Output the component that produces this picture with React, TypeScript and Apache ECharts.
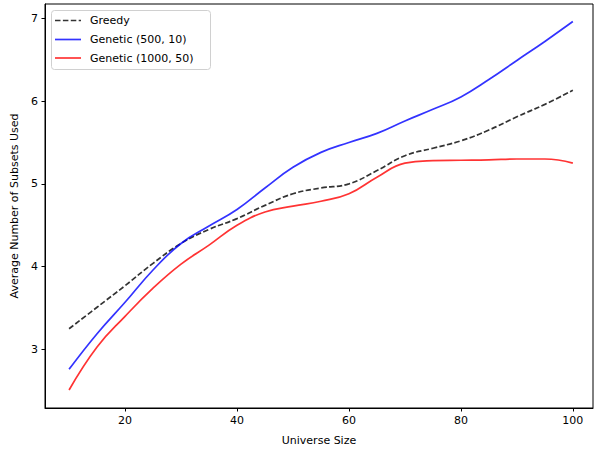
import React, { useEffect, useRef } from "react";
import * as echarts from "echarts";

const xValues = [10, 15, 20, 25, 30, 35, 40, 45, 50, 55, 60, 65, 70, 75, 80, 85, 90, 95, 100];
const greedy = [3.25, 3.51, 3.77, 4.04, 4.28, 4.45, 4.58, 4.74, 4.88, 4.95, 5.0, 5.16, 5.34, 5.43, 5.52, 5.65, 5.81, 5.96, 6.13];
const genetic500 = [2.76, 3.19, 3.57, 3.96, 4.28, 4.49, 4.69, 4.95, 5.2, 5.38, 5.5, 5.61, 5.76, 5.9, 6.05, 6.26, 6.49, 6.72, 6.96];
const genetic1000 = [2.51, 3.03, 3.4, 3.74, 4.03, 4.26, 4.5, 4.66, 4.73, 4.79, 4.88, 5.08, 5.25, 5.28, 5.285, 5.29, 5.3, 5.3, 5.25];
const xTicks = [20, 40, 60, 80, 100];
const yTicks = [3, 4, 5, 6, 7];
const seriesNames = ["Greedy", "Genetic (500, 10)", "Genetic (1000, 50)"];
const seriesColors = ["rgba(0,0,0,0.8)", "rgba(0,0,255,0.8)", "rgba(255,0,0,0.8)"];
const dash = [5.5, 2.4];

const FONT = "DejaVu Sans";

export default function App() {
  const ref = useRef<HTMLDivElement>(null);
  useEffect(() => {
    if (!ref.current) return;
    const chart = echarts.init(ref.current, undefined, { renderer: "svg" });
    const pairs = (ys: number[]) => xValues.map((x, i) => [x, ys[i]]);
    const mk = (i: number, ys: number[]) => ({
      name: seriesNames[i],
      type: "line",
      data: pairs(ys),
      smooth: 0.45,
      showSymbol: false,
      symbol: "none",
      lineStyle: { color: seriesColors[i], width: 1.7, type: i === 0 ? dash : "solid" },
      itemStyle: { color: seriesColors[i] },
    });
    const rowY = [20.5, 39.5, 58];
    const legendItems: any[] = [];
    seriesNames.forEach((n, i) => {
      legendItems.push({
        type: "line",
        shape: { x1: 55, y1: rowY[i], x2: 81, y2: rowY[i] },
        style: { stroke: seriesColors[i], lineWidth: 1.7, lineDash: i === 0 ? dash : null },
        z: 101,
      });
      legendItems.push({
        type: "text",
        x: 90,
        y: rowY[i],
        style: { text: n, fontFamily: FONT, fontSize: 11, fill: "#000", verticalAlign: "middle", align: "left" },
        z: 101,
      });
    });
    chart.setOption({
      animation: false,
      grid: { left: 45, right: 2, top: 4, bottom: 43 },
      graphic: [
        {
          type: "rect",
          shape: { x: 45, y: 4, width: 548, height: 404 },
          style: { fill: "none", stroke: "#000", lineWidth: 1 },
          z: 50,
          silent: true,
        },
        {
          type: "rect",
          shape: { x: 51.5, y: 10.5, width: 159, height: 59, r: 3 },
          style: { fill: "rgba(255,255,255,0.8)", stroke: "#d0d0d0", lineWidth: 1 },
          z: 100,
        },
        ...legendItems,
      ],
      xAxis: {
        type: "value",
        min: 5.7,
        max: 103.6,
        name: "Universe Size",
        nameLocation: "middle",
        nameGap: 27,
        nameTextStyle: { fontFamily: FONT, fontSize: 11, color: "#000" },
        splitLine: { show: false },
        axisLine: { lineStyle: { color: "#000", width: 1 } },
        axisTick: { show: true, length: 3.5, customValues: xTicks, lineStyle: { color: "#000" } },
        axisLabel: { customValues: xTicks, fontFamily: FONT, fontSize: 11, color: "#000", margin: 7 },
      },
      yAxis: {
        type: "value",
        min: 2.293,
        max: 7.172,
        name: "Average Number of Subsets Used",
        nameLocation: "middle",
        nameGap: 24,
        nameTextStyle: { fontFamily: FONT, fontSize: 11, color: "#000" },
        splitLine: { show: false },
        axisLine: { show: true, lineStyle: { color: "#000", width: 1 } },
        axisTick: { show: true, length: 3.5, customValues: yTicks, lineStyle: { color: "#000" } },
        axisLabel: { customValues: yTicks, fontFamily: FONT, fontSize: 11, color: "#000", margin: 7 },
      },
      series: [mk(0, greedy), mk(1, genetic500), mk(2, genetic1000)],
    });
    return () => chart.dispose();
  }, []);
  return <div ref={ref} style={{ position: "absolute", left: 0, top: 0, width: 595, height: 451 }} />;
}
